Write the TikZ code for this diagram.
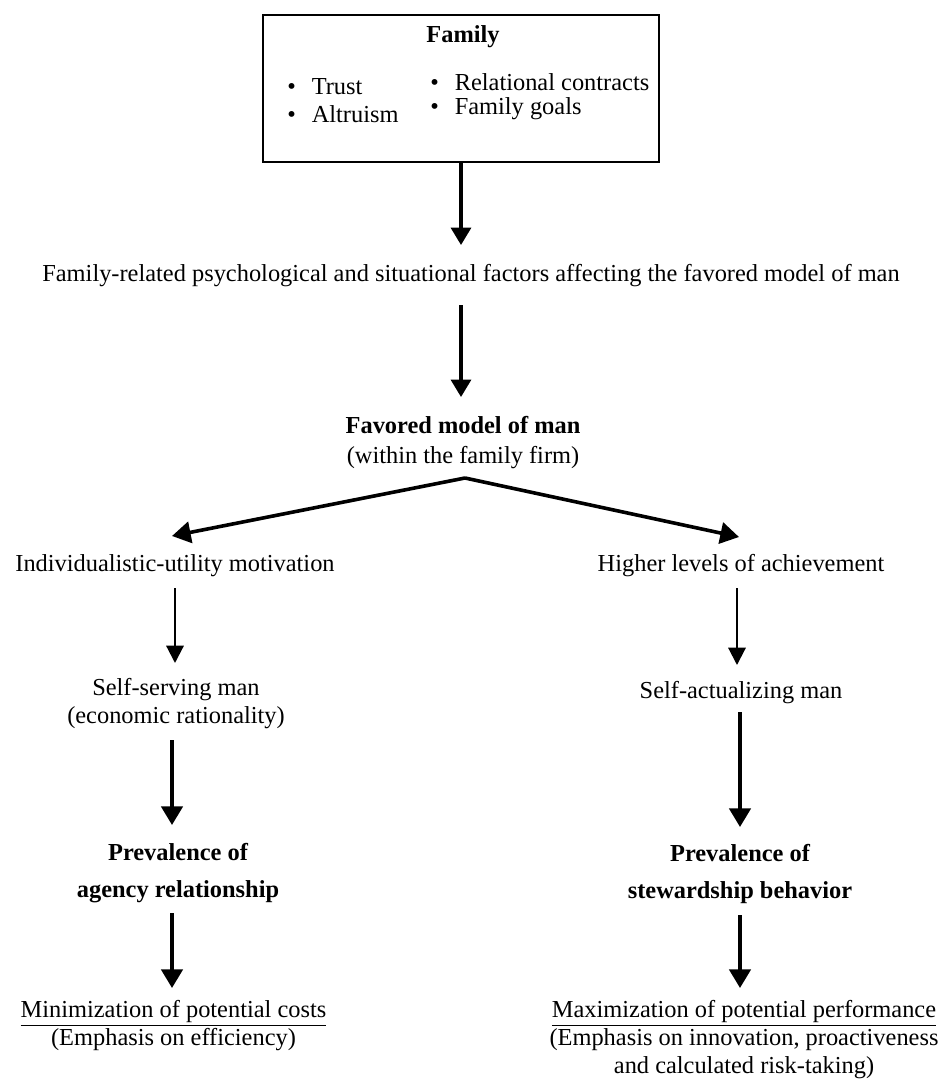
\documentclass[tikz,border=0pt]{standalone}
\usepackage{fontspec}
\setmainfont{Liberation Serif}
\usetikzlibrary{arrows.meta,calc}
\begin{document}
\begin{tikzpicture}[x=0.75pt,y=-0.75pt,
  txt/.style={inner sep=0pt,align=center,font=\fontsize{18.3}{21}\selectfont},
  bxtxt/.style={txt,font=\fontsize{18.3}{21}\selectfont\bfseries},
  item/.style={inner sep=0pt,anchor=west,font=\fontsize{18.3}{21}\selectfont},
  famboxstyle/.style={draw,line width=1.5pt,minimum width=297pt,minimum height=110.5pt,inner sep=0pt},
  arrmain/.style={line width=2.3pt,-{Triangle[width=15pt,length=13pt]}},
  arrdiag/.style={line width=2.7pt,-{Triangle[width=16pt,length=14pt]}},
  arrthin/.style={line width=1.6pt,-{Triangle[width=13pt,length=13pt]}},
  arrthick/.style={line width=2.7pt,-{Triangle[width=16pt,length=14pt]}}]
\useasboundingbox (0,0) rectangle (943,1082);

% Family box
\node[famboxstyle] (family) at (461,88.5) {};
\node[bxtxt] (famtitle) at (463,37) {Family};
\node[item] (trust) at (287,87) {\textbullet\hspace{12pt}Trust};
\node[item] (altruism) at (287,114) {\textbullet\hspace{12pt}Altruism};
\node[item] (relational) at (430,82) {\textbullet\hspace{12pt}Relational contracts};
\node[item] (goals) at (430,109) {\textbullet\hspace{12pt}Family goals};

% Texts
\node[txt] (factors) at (471,276) {Family-related psychological and situational factors affecting the favored model of man};
\node[txt] (favored) at (463,443) {\textbf{Favored model of man}\\[1.5pt](within the family firm)};
\node[txt] (indiv) at (175,566) {Individualistic-utility motivation};
\node[txt] (higher) at (741,566) {Higher levels of achievement};
\node[txt] (selfserv) at (176,704) {Self-serving man\\(economic rationality)};
\node[txt] (selfact) at (741,693) {Self-actualizing man};
\node[txt,font=\fontsize{18.3}{21}\selectfont\bfseries] (prevL) at (178,873.5) {Prevalence of\\[6.75pt]agency relationship};
\node[txt,font=\fontsize{18.3}{21}\selectfont\bfseries] (prevR) at (740,873.5) {Prevalence of\\[6.75pt]stewardship behavior};
\node[txt] (minim) at (173.5,1026) {\underline{Minimization of potential costs}\\(Emphasis on efficiency)};
\node[txt] (maxim) at (744,1040) {\underline{Maximization of potential performance}\\(Emphasis on innovation, proactiveness\\and calculated risk-taking)};

% Connectors
\draw[arrmain] (family.south) -- ($(family.south |- factors.center)+(0,-31)$);
\draw[arrmain] ($(factors.center -| family.south)+(0,29)$) -- ($(favored.center -| family.south)+(0,-46)$);
\draw[arrdiag] ($(favored.center)+(2,35)$) -- ($(indiv.center)+(-3,-30)$);
\draw[arrdiag] ($(favored.center)+(2,35)$) -- ($(higher.center)+(-2,-29)$);
\draw[arrthin] ($(indiv.center)+(0,22)$) -- ($(selfserv.center -| indiv.center)+(0,-41)$);
\draw[arrthin] ($(higher.center)+(-4,22)$) -- ($(selfact.center)+(-4,-28)$);
\draw[arrthick] ($(selfserv.center)+(-4,36)$) -- ($(prevL.center)+(-6,-48.5)$);
\draw[arrthick] ($(selfact.center)+(-1,19)$) -- ($(prevR.center)+(0,-46.5)$);
\draw[arrthick] ($(prevL.center)+(-6,39.5)$) -- ($(minim.center)+(-1.5,-38)$);
\draw[arrthick] ($(prevR.center)+(0,41.5)$) -- ($(maxim.center)+(-4,-52)$);
\end{tikzpicture}
\end{document}
